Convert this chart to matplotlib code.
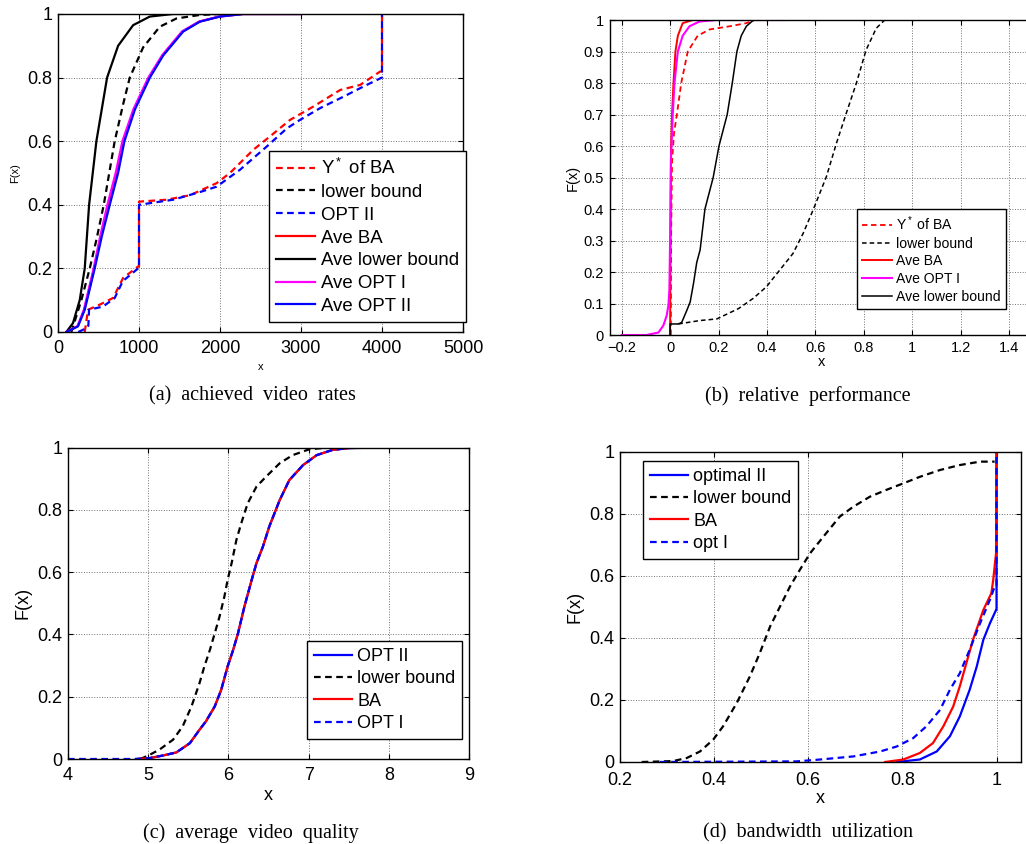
import matplotlib
matplotlib.use("Agg")
import matplotlib.pyplot as plt

plt.rcParams['font.family'] = ['Liberation Sans', 'DejaVu Sans']
plt.rcParams['mathtext.fontset'] = 'custom'
plt.rcParams['mathtext.rm'] = 'Liberation Sans'
plt.rcParams['mathtext.it'] = 'Liberation Sans'

# (a) achieved video rates
a_ystar_x = [330, 371, 515, 680, 804, 989, 1000, 1000, 1340, 1628, 1958, 2123, 2411, 2617, 2865, 3153, 3483, 3730, 3977, 4000, 4000]
a_ystar_y = [0, 0.07, 0.086, 0.107, 0.17, 0.206, 0.206, 0.41, 0.416, 0.43, 0.468, 0.5, 0.573, 0.615, 0.667, 0.709, 0.761, 0.777, 0.819, 0.82, 1.0]
a_lb_x = [165, 288, 392, 474, 565, 700, 804, 886, 1051, 1257, 1463, 1752, 2000]
a_lb_y = [0, 0.1, 0.2, 0.29, 0.4, 0.6, 0.716, 0.8, 0.895, 0.96, 0.986, 0.997, 1.0]
a_opt2_x = [250, 350, 375, 383, 556, 700, 800, 989, 1000, 1000, 1422, 1752, 1958, 2246, 2576, 2824, 2988, 3236, 3524, 3771, 3998, 4000, 4000]
a_opt2_y = [0, 0.012, 0.02, 0.07, 0.08, 0.107, 0.16, 0.2, 0.2, 0.4, 0.416, 0.44, 0.457, 0.51, 0.583, 0.64, 0.667, 0.704, 0.74, 0.772, 0.80, 0.80, 1.0]
a_aveba_x = [103, 244, 325, 447, 530, 625, 727, 808, 940, 1125, 1292, 1538, 1746, 1995, 2284, 3000]
a_alb_x = [103, 185, 268, 330, 384, 474, 606, 742, 928, 1134, 1422, 2000]
a_alb_y = [0, 0.028, 0.1, 0.2, 0.4, 0.6, 0.8, 0.9, 0.965, 0.992, 1.0, 1.0]
a_aveopt1_x = [103, 240, 320, 440, 520, 610, 712, 795, 930, 1115, 1285, 1530, 1740, 1990, 2280, 3000]
a_aveopt2_x = [103, 247, 330, 453, 540, 639, 742, 820, 950, 1134, 1300, 1546, 1752, 2000, 2288, 3000]
a_ave_y = [0, 0.018, 0.07, 0.2, 0.3, 0.4, 0.5, 0.6, 0.7, 0.8, 0.87, 0.945, 0.976, 0.992, 1.0, 1.0]

# (b) relative performance
b_ystar_x = [0.003, 0.004, 0.008, 0.016, 0.028, 0.046, 0.073, 0.114, 0.163, 0.246, 0.315, 0.35, 0.55]
b_ystar_y = [0, 0.3, 0.55, 0.64, 0.7, 0.8, 0.9, 0.95, 0.97, 0.98, 0.99, 1.0, 1.0]
b_lb_x = [0.034, 0.124, 0.193, 0.283, 0.343, 0.398, 0.453, 0.508, 0.55, 0.591, 0.646, 0.687, 0.728, 0.77, 0.81, 0.852, 0.887]
b_lb_y = [0.035, 0.046, 0.051, 0.084, 0.116, 0.153, 0.206, 0.259, 0.323, 0.397, 0.503, 0.608, 0.704, 0.8, 0.905, 0.974, 1.0]
b_aveba_x = [0, 0.002, 0.004, 0.008, 0.014, 0.022, 0.032, 0.052, 0.094, 0.5]
b_aveba_y = [0, 0.3, 0.6, 0.7, 0.8, 0.9, 0.95, 0.99, 1.0, 1.0]
b_aveopt1_x = [-0.2, -0.097, -0.048, -0.028, -0.014, -0.007, -0.003, 0.0, 0.003, 0.011, 0.018, 0.032, 0.052, 0.08, 0.121, 0.19, 0.48]
b_aveopt1_y = [0, 0, 0.008, 0.03, 0.062, 0.094, 0.143, 0.3, 0.55, 0.7, 0.8, 0.9, 0.95, 0.98, 0.995, 1.0, 1.0]
b_alb_x = [0, 0, 0.034, 0.048, 0.069, 0.083, 0.097, 0.11, 0.124, 0.144, 0.178, 0.202, 0.236, 0.257, 0.276, 0.294, 0.315, 0.345, 0.41]
b_alb_y = [0, 0.035, 0.035, 0.04, 0.078, 0.105, 0.165, 0.23, 0.27, 0.4, 0.5, 0.6, 0.7, 0.8, 0.9, 0.95, 0.98, 1.0, 1.0]

# (c) average video quality
c_opt2_x = [4.85, 5.02, 5.18, 5.35, 5.43, 5.52, 5.64, 5.72, 5.83, 5.91, 5.99, 6.06, 6.12, 6.2, 6.29, 6.35, 6.43, 6.51, 6.64, 6.76, 6.93, 7.1, 7.3, 7.51, 7.93]
c_opt2_y = [0, 0.003, 0.011, 0.021, 0.035, 0.051, 0.094, 0.121, 0.169, 0.222, 0.297, 0.351, 0.404, 0.49, 0.575, 0.629, 0.682, 0.747, 0.832, 0.896, 0.944, 0.976, 0.993, 0.999, 1.0]
c_lb_x = [4.9, 5.0, 5.14, 5.31, 5.43, 5.54, 5.64, 5.7, 5.77, 5.83, 5.89, 5.95, 5.99, 6.04, 6.1, 6.16, 6.24, 6.35, 6.47, 6.64, 6.8, 7.01, 7.22, 7.5]
c_lb_y = [0, 0.011, 0.03, 0.062, 0.105, 0.169, 0.244, 0.297, 0.351, 0.404, 0.458, 0.522, 0.575, 0.629, 0.704, 0.757, 0.821, 0.875, 0.907, 0.95, 0.976, 0.995, 1.0, 1.0]
c_ba_x = [4.85, 5.02, 5.18, 5.35, 5.43, 5.52, 5.64, 5.72, 5.83, 5.91, 5.99, 6.06, 6.12, 6.2, 6.29, 6.35, 6.43, 6.51, 6.64, 6.76, 6.93, 7.1, 7.3, 7.51, 7.93]
c_ba_y = [0, 0.003, 0.011, 0.021, 0.035, 0.051, 0.094, 0.121, 0.169, 0.222, 0.297, 0.351, 0.404, 0.49, 0.575, 0.629, 0.682, 0.747, 0.832, 0.896, 0.944, 0.976, 0.993, 0.999, 1.0]
c_opt1_x = [4.0, 4.85, 5.02, 5.18, 5.35, 5.43, 5.52, 5.64, 5.72, 5.83, 5.91, 5.99, 6.06, 6.12, 6.2, 6.29, 6.35, 6.43, 6.51, 6.64, 6.76, 6.93, 7.1, 7.3, 7.51, 7.93]
c_opt1_y = [0, 0, 0.003, 0.011, 0.021, 0.035, 0.051, 0.094, 0.121, 0.169, 0.222, 0.297, 0.351, 0.404, 0.49, 0.575, 0.629, 0.682, 0.747, 0.832, 0.896, 0.944, 0.976, 0.993, 0.999, 1.0]

# (d) bandwidth utilization
d_opt2_x = [0.788, 0.837, 0.873, 0.901, 0.922, 0.943, 0.958, 0.972, 0.986, 0.999, 1.0, 1.0]
d_opt2_y = [0, 0.008, 0.034, 0.083, 0.147, 0.233, 0.308, 0.394, 0.447, 0.49, 0.49, 1.0]
d_lb_x = [0.246, 0.313, 0.342, 0.37, 0.398, 0.419, 0.448, 0.476, 0.497, 0.519, 0.54, 0.561, 0.582, 0.604, 0.632, 0.667, 0.696, 0.731, 0.766, 0.802, 0.837, 0.88, 0.922, 0.965, 0.996]
d_lb_y = [0, 0.003, 0.013, 0.034, 0.072, 0.115, 0.19, 0.276, 0.351, 0.437, 0.501, 0.565, 0.619, 0.673, 0.726, 0.791, 0.823, 0.855, 0.877, 0.898, 0.919, 0.941, 0.957, 0.968, 0.968]
d_ba_x = [0.763, 0.802, 0.837, 0.865, 0.887, 0.908, 0.922, 0.936, 0.95, 0.972, 0.989, 0.993, 0.999, 1.0]
d_ba_y = [0, 0.008, 0.029, 0.061, 0.115, 0.179, 0.244, 0.319, 0.394, 0.49, 0.544, 0.587, 0.673, 1.0]
d_opt1_x = [0.285, 0.575, 0.625, 0.696, 0.753, 0.788, 0.823, 0.851, 0.88, 0.901, 0.922, 0.943, 0.965, 0.986, 0.996, 1.0, 1.0]
d_opt1_y = [0, 0.002, 0.008, 0.018, 0.034, 0.05, 0.077, 0.115, 0.168, 0.233, 0.286, 0.362, 0.447, 0.523, 0.565, 0.565, 1.0]

captions = ['(a)  achieved  video  rates', '(b)  relative  performance',
            '(c)  average  video  quality', '(d)  bandwidth  utilization']

DASH = (3.0, 2.0)
MAGENTA = '#ff00ff'


def style_axes(ax, tick_size, xpad):
    ax.grid(True, linestyle=':', color='0.45', linewidth=0.7)
    ax.tick_params(direction='in', top=True, right=True, length=3.5,
                   width=0.8, labelsize=tick_size)
    ax.tick_params(axis='x', pad=xpad)
    ax.tick_params(axis='y', pad=4)
    for sp in ax.spines.values():
        sp.set_linewidth(1.0)


def add_legend(ax, fig, anchor, size, spacing):
    leg = ax.legend(loc='upper left', bbox_to_anchor=anchor,
                    bbox_transform=fig.transFigure, borderaxespad=0,
                    fontsize=size, fancybox=False, framealpha=1,
                    edgecolor='black', handlelength=2.1, handletextpad=0.3,
                    labelspacing=spacing, borderpad=0.38)
    leg.get_frame().set_linewidth(1.0)
    return leg


fig = plt.figure(figsize=(10.26, 8.44), dpi=100)

# ---- (a)
ax = fig.add_axes([58 / 1026, 1 - 332 / 844, 405 / 1026, 318 / 844])
lw = 1.6
ax.plot(a_ystar_x, a_ystar_y, 'r--', dashes=DASH, lw=lw, label='Y$^*$ of BA')
ax.plot(a_lb_x, a_lb_y, 'k--', dashes=DASH, lw=lw, label='lower bound')
ax.plot(a_opt2_x, a_opt2_y, 'b--', dashes=DASH, lw=lw, label='OPT II')
ax.plot(a_aveba_x, a_ave_y, 'r-', lw=lw, label='Ave BA')
ax.plot(a_alb_x, a_alb_y, 'k-', lw=lw, label='Ave lower bound')
ax.plot(a_aveopt1_x, a_ave_y, '-', color=MAGENTA, lw=lw, label='Ave OPT I')
ax.plot(a_aveopt2_x, a_ave_y, 'b-', lw=lw, label='Ave OPT II')
ax.set_xlim(0, 5000)
ax.set_ylim(0, 1)
ax.set_xticks([0, 1000, 2000, 3000, 4000, 5000])
ax.set_yticks([0, 0.2, 0.4, 0.6, 0.8, 1])
ax.set_yticklabels(['0', '0.2', '0.4', '0.6', '0.8', '1'])
style_axes(ax, 13, 5.5)
ax.set_xlabel('x', fontsize=8, labelpad=4)
ax.set_ylabel('F(x)', fontsize=8, labelpad=5)
add_legend(ax, fig, (269 / 1026, 1 - 151 / 844), 13.4, 0.31)

# ---- (b)
ax = fig.add_axes([609.6 / 1026, 1 - 335 / 844, 423.5 / 1026, 315 / 844])
lw = 1.1
ax.plot(b_ystar_x, b_ystar_y, 'r--', dashes=DASH, lw=lw + 0.2, label='Y$^*$ of BA')
ax.plot(b_lb_x, b_lb_y, 'k--', dashes=DASH, lw=lw, label='lower bound')
ax.plot(b_aveba_x, b_aveba_y, 'r-', lw=lw + 0.3, label='Ave BA')
ax.plot(b_aveopt1_x, b_aveopt1_y, '-', color=MAGENTA, lw=lw + 0.4, label='Ave OPT I')
ax.plot(b_alb_x, b_alb_y, 'k-', lw=lw, label='Ave lower bound')
ax.set_xlim(-0.25, 1.5)
ax.set_ylim(0, 1)
bx = [-0.2, 0, 0.2, 0.4, 0.6, 0.8, 1.0, 1.2, 1.4]
ax.set_xticks(bx)
ax.set_xticklabels(['\u22120.2', '0', '0.2', '0.4', '0.6', '0.8', '1', '1.2', '1.4'])
by = [i / 10 for i in range(11)]
ax.set_yticks(by)
ax.set_yticklabels(['0'] + ['%.1f' % v for v in by[1:-1]] + ['1'])
style_axes(ax, 10.5, 4)
ax.set_xlabel('x', fontsize=10.5, labelpad=0)
ax.set_ylabel('F(x)', fontsize=10.5, labelpad=3)
add_legend(ax, fig, (857 / 1026, 1 - 209 / 844), 10.1, 0.26)

# ---- (c)
ax = fig.add_axes([68 / 1026, 1 - 759 / 844, 401 / 1026, 311.3 / 844])
lw = 1.6
ax.plot(c_opt2_x, c_opt2_y, 'b-', lw=lw, label='OPT II')
ax.plot(c_lb_x, c_lb_y, 'k--', dashes=DASH, lw=lw, label='lower bound')
ax.plot(c_ba_x, c_ba_y, 'r-', lw=lw, label='BA')
ax.plot(c_opt1_x, c_opt1_y, 'b--', dashes=DASH, lw=lw, label='OPT I')
ax.set_xlim(4, 9)
ax.set_ylim(0, 1)
ax.set_xticks([4, 5, 6, 7, 8, 9])
ax.set_yticks([0, 0.2, 0.4, 0.6, 0.8, 1])
ax.set_yticklabels(['0', '0.2', '0.4', '0.6', '0.8', '1'])
style_axes(ax, 13, 6)
ax.set_xlabel('x', fontsize=13, labelpad=2)
ax.set_ylabel('F(x)', fontsize=13, labelpad=4)
add_legend(ax, fig, (307 / 1026, 1 - 641 / 844), 13, 0.3)

# ---- (d)
ax = fig.add_axes([620 / 1026, 1 - 762 / 844, 401 / 1026, 310.3 / 844])
ax.plot(d_opt2_x, d_opt2_y, 'b-', lw=lw, label='optimal II')
ax.plot(d_lb_x, d_lb_y, 'k--', dashes=DASH, lw=lw, label='lower bound')
ax.plot(d_ba_x, d_ba_y, 'r-', lw=lw, label='BA')
ax.plot(d_opt1_x, d_opt1_y, 'b--', dashes=DASH, lw=lw, label='opt I')
ax.set_xlim(0.2, 1.052)
ax.set_ylim(0, 1)
ax.set_xticks([0.2, 0.4, 0.6, 0.8, 1.0])
ax.set_xticklabels(['0.2', '0.4', '0.6', '0.8', '1'])
ax.set_yticks([0, 0.2, 0.4, 0.6, 0.8, 1])
ax.set_yticklabels(['0', '0.2', '0.4', '0.6', '0.8', '1'])
style_axes(ax, 13, 7)
ax.set_xlabel('x', fontsize=13, labelpad=1)
ax.set_ylabel('F(x)', fontsize=13, labelpad=4)
add_legend(ax, fig, (643 / 1026, 1 - 461 / 844), 13, 0.3)

# sub-figure captions
cap_pos = [(252, 396), (808, 396), (251, 833), (808, 833)]
for text, (cx, cy) in zip(captions, cap_pos):
    fig.text(cx / 1026, 1 - cy / 844, text, ha='center', va='center',
             fontsize=14.5, family=['Liberation Serif', 'DejaVu Serif'])

fig.savefig('out.png', dpi=100)
